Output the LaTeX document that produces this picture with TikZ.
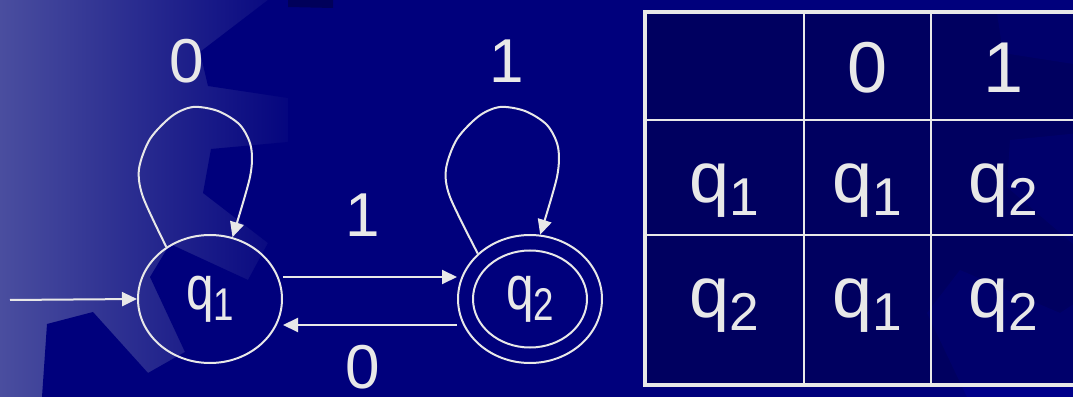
\documentclass[tikz,border=0pt]{standalone}
\usepackage{fontspec}
\setmainfont{Liberation Sans}
\usepackage{graphicx}
\usepackage{tikz}
\usetikzlibrary{arrows.meta, positioning, calc, shapes.geometric}
\definecolor{slidenavy}{HTML}{00007C}
\definecolor{slideleft}{HTML}{4A4E9F}
\definecolor{slidedeep}{HTML}{00005A}
\definecolor{slidelight}{HTML}{00008A}
\definecolor{chalk}{HTML}{E8E8E8}

\makeatletter
\newcommand{\qsub}[1]{q\raisebox{-0.18em}{\fontsize{\fpeval{0.74*\f@size}}{1}\selectfont #1}}
\makeatother

\tikzset{
  state/.style={ellipse, draw=chalk, line width=1pt, minimum width=72pt,
    minimum height=64pt, inner sep=0pt, text=chalk, font=\fontsize{31}{36}\selectfont},
  trlabel/.style={text=chalk, anchor=base, inner sep=0pt, font=\fontsize{31}{36}\selectfont},
  cell/.style={text=chalk, anchor=base, inner sep=0pt, font=\fontsize{36}{42}\selectfont},
  edge/.style={draw=chalk, line width=1pt, -{Triangle[length=7.5pt,width=7pt]}},
  tabouter/.style={draw=chalk, line width=2.4pt},
  tabinner/.style={draw=chalk, line width=1pt},
}

\begin{document}
\begin{tikzpicture}[x=0.5pt, y=0.5pt]
  \useasboundingbox (0,0) rectangle (1073,397);
  \clip (0,0) rectangle (1073,397);
  % slide background
  \shade[left color=slideleft, right color=slidenavy] (0,0) rectangle (310,397);
  \fill[slidenavy] (309,0) rectangle (1080,397);
  \fill[slidenavy] (268,397) -- (200,345) -- (208,311) -- (288,299) -- (288,255)
    -- (211,248) -- (203,204) -- (268,154) -- (248,117) -- (170,153) -- (150,120)
    -- (185,45) -- (148,24) -- (93,85) -- (47,73) -- (42,0) -- (312,0) -- (312,397) -- cycle;
  \fill[slidedeep] (288,397) -- (333,397) -- (333,389) -- (288,390) -- cycle;
  \fill[slidelight] (997,384) -- (1080,384) -- (1080,332) -- (1003,344) -- cycle;
  \fill[slidelight] (1010,257) -- (1080,264) -- (1080,147) -- (1007,210) -- cycle;
  \fill[slidelight] (960,127) -- (1060,84) -- (1080,97) -- (1080,0) -- (967,0) -- (927,84) -- cycle;

  % automaton
  \node[state] (q1) at (210,98) {\scalebox{0.8}[1]{\qsub{1}}};
  \node[state] (q2) at (530,98) {\scalebox{0.8}[1]{\qsub{2}}};
  \node[state, minimum width=57pt, minimum height=48.5pt] (q2in) at (q2.center) {};
  \coordinate (start) at (10,97);

  \draw[edge] (start) -- (q1.west);
  \draw[edge] ([yshift=11pt]q1.east) -- ([yshift=11pt]q2.west);
  \draw[edge] ([yshift=-13pt]q2.west) -- ([yshift=-13pt]q1.east);
  \draw[edge] plot[smooth] coordinates {(q1.130) (143,200) (139,228) (150,258) (172,281)
    (193,290) (218,286) (240,272) (251,250) (250,220) (q1.70)};
  \draw[edge] plot[smooth] coordinates {(q2.139) (450,200) (446,228) (457,258) (479,281)
    (500,290) (525,286) (547,272) (558,250) (557,220) (q2.81)};

  \node[trlabel] (lq1) at (187,314) {0};
  \node[trlabel] (lq2) at (507,314) {1};
  \node[trlabel] (l12) at (363,160) {1};
  \node[trlabel] (l21) at (363,9) {0};

  % transition table
  \fill[black, opacity=0.22] (645,12) rectangle (1076,385);
  \draw[tabouter] (645,12) rectangle (1076,385);
  \foreach \x in {804,931} \draw[tabinner] (\x,12) -- (\x,385);
  \foreach \y in {162,277} \draw[tabinner] (645,\y) -- (1076,\y);

  \node[cell] (h0) at (867.5,304) {0};
  \node[cell] (h1) at (1003.5,304) {1};
  \foreach \r/\y/\s/\a/\b in {1/194/1/1/2, 2/79/2/1/2}{
    \node[cell] (s\r) at (724.5,\y) {\qsub{\s}};
    \node[cell] (a\r) at (867.5,\y) {\qsub{\a}};
    \node[cell] (b\r) at (1003.5,\y) {\qsub{\b}};
  }
\end{tikzpicture}
\end{document}
